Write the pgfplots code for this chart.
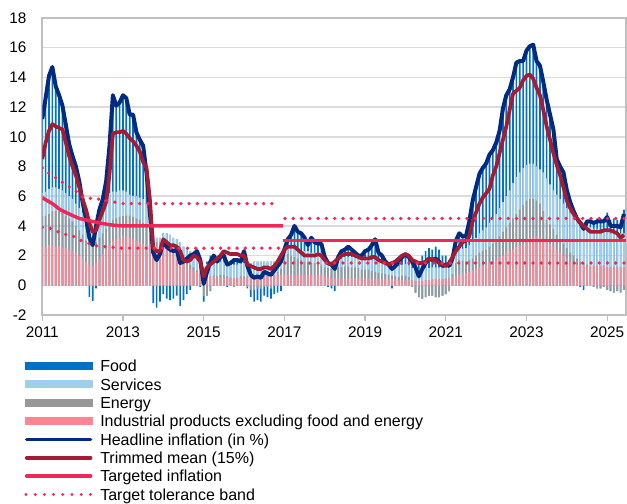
\documentclass[border=0pt]{standalone}
\usepackage{fontspec}
\setmainfont{Liberation Sans}
\usepackage{pgfplots}
\usepackage{pgfplotstable}
\pgfplotsset{compat=1.18}

\definecolor{cFood}{RGB}{0,114,198}
\definecolor{cServ}{RGB}{160,207,235}
\definecolor{cEn}{RGB}{152,152,152}
\definecolor{cInd}{RGB}{255,133,145}
\definecolor{cHead}{RGB}{0,43,127}
\definecolor{cTrim}{RGB}{164,27,52}
\definecolor{cTarget}{RGB}{240,40,90}

% t = months since Jan 2011; I = industrial products, E = energy, S = services, F = food,
% H = headline inflation, T = trimmed mean
\pgfplotstableread{
t I E S F H T
0 2.6 2.05 1.55 5.0 11.2 8.5
1 2.6 2.1 1.6 6.3 12.6 9.6
2 2.7 2.1 1.7 7.6 14.1 10.4
3 2.7 2.3 1.6 8.1 14.7 10.85
4 2.6 2.4 1.6 6.8 13.4 10.7
5 2.6 2.4 1.5 6.3 12.8 10.6
6 2.5 2.4 1.5 5.7 12.1 10.5
7 2.5 2.2 1.5 4.6 10.8 9.6
8 2.4 2.1 1.5 3.5 9.5 8.7
9 2.3 2.0 1.5 2.9 8.7 8.0
10 2.2 1.8 1.5 2.5 8.0 7.4
11 2.0 1.7 1.5 1.8 7.0 6.6
12 1.8 1.6 1.5 0.7 5.6 5.8
13 1.6 1.4 1.5 0.0 4.5 5.1
14 1.4 1.4 1.2 -0.8 3.2 4.2
15 1.3 1.4 1.05 -1.05 2.7 3.6
16 1.5 1.4 1.3 -0.2 4.0 3.7
17 1.8 1.4 1.7 0.2 5.1 4.4
18 2.1 1.4 1.9 0.4 5.8 5.0
19 2.4 1.4 2.0 1.2 7.0 5.6
20 2.7 1.4 2.1 3.2 9.4 7.5
21 3.0 1.4 1.9 6.5 12.8 10.2
22 3.1 1.4 1.8 5.8 12.1 10.3
23 3.2 1.4 1.8 5.9 12.3 10.3
24 3.3 1.35 1.75 6.4 12.8 10.4
25 3.3 1.4 1.6 6.3 12.6 10.2
26 3.2 1.5 1.4 5.4 11.5 9.9
27 3.1 1.5 1.4 5.5 11.5 9.7
28 3.0 1.5 1.5 4.3 10.3 9.4
29 2.9 1.5 1.5 3.9 9.8 9.0
30 2.8 1.4 1.6 3.6 9.4 8.3
31 2.7 1.3 1.5 2.1 7.6 7.9
32 2.7 0.7 0.8 0.7 4.9 5.8
33 2.6 0.4 0.4 -1.2 2.2 2.5
34 2.6 0.3 0.3 -1.5 1.7 2.3
35 2.6 0.3 0.3 -1.1 2.1 2.3
36 2.5 0.3 0.7 -0.6 2.9 3.1
37 2.4 0.3 0.8 -0.9 2.6 2.9
38 2.2 0.3 0.9 -1.0 2.4 2.7
39 2.1 0.3 0.8 -0.9 2.3 2.7
40 1.9 0.3 0.9 -0.7 2.4 2.6
41 1.7 0.3 0.9 -1.4 1.5 2.3
42 1.5 0.3 0.8 -1.0 1.6 1.7
43 1.3 0.3 0.8 -0.6 1.8 1.6
44 1.1 0.3 0.9 -0.3 2.0 1.7
45 1.0 0.2 0.9 0.0 2.1 2.0
46 0.9 0.1 1.0 0.3 2.3 1.9
47 0.8 0.0 1.0 -0.1 1.7 1.6
48 0.7 -0.7 0.5 -0.4 0.1 0.6
49 0.65 -0.7 0.8 0.15 0.9 1.2
50 0.6 -0.4 1.0 0.4 1.6 1.4
51 0.55 0.1 1.0 0.35 2.0 1.6
52 0.5 0.1 0.9 0.1 1.6 1.8
53 0.5 0.2 0.9 0.3 1.9 2.0
54 0.5 0.2 0.9 0.4 2.0 2.3
55 0.5 0.1 0.9 -0.1 1.4 2.2
56 0.5 0.0 0.9 0.1 1.5 2.1
57 0.5 -0.1 0.9 0.4 1.7 2.1
58 0.5 0.0 0.9 0.3 1.7 2.1
59 0.5 0.1 0.9 0.1 1.6 2.0
60 0.5 0.1 0.9 0.8 2.3 2.0
61 0.6 -0.1 0.9 -0.1 1.3 1.4
62 0.6 -0.3 0.9 -0.5 0.7 1.3
63 0.7 -0.3 0.9 -0.8 0.5 1.2
64 0.7 -0.2 0.9 -0.8 0.6 1.1
65 0.7 -0.2 0.9 -0.9 0.5 1.1
66 0.7 -0.1 0.9 -0.6 0.9 1.2
67 0.7 -0.1 0.9 -0.7 0.8 1.2
68 0.7 -0.2 0.9 -0.7 0.7 1.1
69 0.7 0.0 0.9 -0.6 1.0 1.3
70 0.7 0.2 0.9 -0.5 1.3 1.6
71 0.7 0.4 0.9 -0.4 1.6 2.0
72 0.7 1.3 0.4 0.0 2.4 2.4
73 0.7 1.4 0.4 0.6 3.1 2.6
74 0.7 1.3 0.5 0.9 3.4 2.6
75 0.7 1.2 0.6 1.5 4.0 2.6
76 0.7 1.1 0.6 1.2 3.6 2.4
77 0.7 1.0 0.6 1.2 3.5 2.2
78 0.7 0.9 0.7 0.9 3.2 2.0
79 0.7 0.9 0.7 0.4 2.7 2.0
80 0.7 0.8 0.7 1.0 3.2 2.0
81 0.7 0.8 0.7 0.7 2.9 2.0
82 0.7 0.7 0.8 0.6 2.8 2.1
83 0.7 0.7 0.8 0.6 2.8 2.0
84 0.6 0.6 0.6 0.1 1.9 1.7
85 0.55 0.6 0.45 -0.1 1.5 1.5
86 0.5 0.6 0.5 -0.2 1.4 1.4
87 0.5 0.6 0.4 -0.4 1.1 1.6
88 0.5 0.7 0.5 0.2 1.9 1.8
89 0.45 0.75 0.6 0.5 2.3 2.0
90 0.45 0.8 0.65 0.5 2.4 2.1
91 0.45 0.8 0.65 0.7 2.6 2.1
92 0.45 0.75 0.7 0.5 2.4 2.1
93 0.45 0.75 0.7 0.3 2.2 2.0
94 0.45 0.7 0.65 0.2 2.0 1.9
95 0.45 0.6 0.75 0.2 2.0 1.8
96 0.45 0.6 0.65 0.6 2.3 1.8
97 0.45 0.6 0.65 0.7 2.4 1.8
98 0.4 0.55 0.75 1.0 2.7 1.9
99 0.4 0.5 0.8 1.4 3.1 1.9
100 0.4 0.45 0.75 0.6 2.2 1.7
101 0.4 0.4 0.8 0.4 2.0 1.6
102 0.4 0.35 0.75 0.1 1.6 1.5
103 0.4 0.3 0.7 0.0 1.4 1.4
104 0.4 0.25 0.65 -0.2 1.1 1.5
105 0.4 0.2 0.7 0.0 1.3 1.6
106 0.35 0.2 0.75 0.3 1.6 1.8
107 0.35 0.3 0.75 0.5 1.9 2.0
108 0.35 0.3 0.8 0.65 2.1 2.1
109 0.35 0.2 0.8 0.55 1.9 2.0
110 0.35 -0.1 0.8 0.55 1.6 1.7
111 0.3 -0.5 0.8 0.6 1.2 1.6
112 0.3 -0.8 0.8 0.3 0.6 1.5
113 0.3 -0.9 0.8 0.9 1.1 1.5
114 0.35 -0.8 0.8 1.15 1.5 1.6
115 0.35 -0.7 0.8 1.35 1.8 1.8
116 0.4 -0.7 0.8 1.2 1.7 1.7
117 0.4 -0.8 0.8 1.4 1.8 1.7
118 0.4 -0.8 0.8 1.2 1.6 1.5
119 0.4 -0.7 0.8 0.8 1.3 1.4
120 0.45 -0.6 0.8 0.75 1.4 1.3
121 0.5 -0.4 0.8 0.4 1.3 1.5
122 0.55 0.2 0.8 0.25 1.8 1.9
123 0.6 0.9 0.8 0.7 3.0 2.3
124 0.7 1.0 0.8 1.0 3.5 2.6
125 0.75 0.9 0.8 0.85 3.3 2.9
126 0.8 0.8 0.9 0.8 3.3 3.0
127 0.9 0.8 1.0 1.6 4.3 3.3
128 1.0 0.8 1.1 2.8 5.7 4.3
129 1.1 0.9 1.2 3.4 6.6 4.9
130 1.2 1.0 1.3 4.0 7.5 5.5
131 1.3 1.0 1.4 4.2 7.9 5.9
132 1.4 1.0 1.5 4.3 8.2 6.2
133 1.5 1.1 1.6 4.6 8.8 6.5
134 1.6 1.2 1.7 4.6 9.1 7.4
135 1.7 1.3 1.8 4.8 9.6 8.0
136 1.9 1.4 1.9 5.2 10.4 8.9
137 2.0 1.6 2.0 6.3 11.9 9.8
138 2.2 1.7 2.1 6.8 12.8 10.7
139 2.3 1.9 2.2 6.8 13.2 11.8
140 2.4 2.1 2.4 7.1 14.0 12.9
141 2.6 2.2 2.5 7.7 15.0 13.1
142 2.7 2.4 2.5 7.5 15.1 13.3
143 2.8 2.6 2.5 7.2 15.1 13.8
144 3.0 2.7 2.4 7.7 15.8 14.1
145 3.2 2.6 2.4 7.9 16.1 14.2
146 3.3 2.5 2.4 8.0 16.2 13.9
147 3.3 2.4 2.3 7.1 15.1 13.3
148 3.2 2.3 2.3 7.0 14.8 12.8
149 3.1 1.9 2.6 6.1 13.7 11.8
150 3.0 1.4 2.8 5.3 12.5 10.7
151 2.8 1.3 2.7 4.7 11.5 9.8
152 2.6 1.2 2.6 4.1 10.5 8.9
153 2.4 1.0 2.7 2.4 8.5 8.1
154 2.2 0.9 2.7 2.2 8.0 7.4
155 2.0 0.8 2.7 2.1 7.6 6.6
156 1.8 0.7 2.7 1.2 6.4 5.7
157 1.6 0.6 2.7 0.7 5.6 5.2
158 1.5 0.5 2.6 0.4 5.0 4.8
159 1.4 0.4 2.6 0.1 4.5 4.5
160 1.4 0.2 2.7 -0.1 4.2 4.2
161 1.4 0.1 2.6 -0.3 3.8 4.0
162 1.3 0.1 2.6 0.3 4.3 3.8
163 1.3 0.0 2.6 0.4 4.3 3.6
164 1.3 -0.1 2.5 0.5 4.2 3.6
165 1.3 -0.2 2.5 0.7 4.3 3.6
166 1.3 -0.2 2.4 0.8 4.3 3.6
167 1.3 -0.1 2.4 0.7 4.3 3.7
168 1.2 -0.3 2.4 1.3 4.6 3.7
169 1.2 -0.4 2.3 0.9 4.0 3.7
170 1.2 -0.5 2.3 1.0 4.0 3.6
171 1.2 -0.4 2.3 0.9 4.0 3.5
172 1.2 -0.5 2.3 0.9 3.9 3.2
173 1.2 -0.3 2.3 1.6 4.8 3.4
}\datatab

\pgfplotsset{
  mybar/.style={ybar, bar width=0.5, bar shift=0pt, draw=none, fill=#1},
  band/.style={cTarget, line width=2.8pt, line cap=round, dash pattern=on 0pt off 6.2pt},
}

\begin{document}
\begin{tikzpicture}
\useasboundingbox (0pt,0pt) rectangle (470.25pt,377.25pt);
\begin{axis}[
  at={(31.7pt,141pt)}, anchor=south west,
  scale only axis, width=437.8pt, height=222.75pt,
  xmin=0, xmax=173.6, ymin=-2, ymax=18,
  ytick={-2,0,...,18},
  xtick={0,24,...,168},
  xticklabels={2011,2013,2015,2017,2019,2021,2023,2025},
  axis line style={draw=gray!50, line width=1.2pt},
  ymajorgrids, grid style={draw=gray!28, line width=1.1pt},
  tick align=outside, xtick pos=lower,
  major tick length=4.5pt,
  ytick style={draw=none},
  xtick style={draw=gray!50, line width=1pt},
  /pgf/number format/assume math mode=true,
  ticklabel style={font=\fontsize{11.5pt}{13pt}\selectfont},
  yticklabel style={xshift=-3.8pt},
  xticklabel style={yshift=-0.5pt},
]
% stacked contributions (drawn as overlaid cumulative bars, positives up, negatives down)
\addplot[mybar=cFood] table[x=t, y expr={max(\thisrow{I},0)+max(\thisrow{E},0)+max(\thisrow{S},0)+max(\thisrow{F},0)}] {\datatab};
\addplot[mybar=cFood] table[x=t, y expr={min(\thisrow{I},0)+min(\thisrow{E},0)+min(\thisrow{S},0)+min(\thisrow{F},0)}] {\datatab};
\addplot[mybar=cServ] table[x=t, y expr={max(\thisrow{I},0)+max(\thisrow{E},0)+max(\thisrow{S},0)}] {\datatab};
\addplot[mybar=cServ] table[x=t, y expr={min(\thisrow{I},0)+min(\thisrow{E},0)+min(\thisrow{S},0)}] {\datatab};
\addplot[mybar=cEn] table[x=t, y expr={max(\thisrow{I},0)+max(\thisrow{E},0)}] {\datatab};
\addplot[mybar=cEn] table[x=t, y expr={min(\thisrow{I},0)+min(\thisrow{E},0)}] {\datatab};
\addplot[mybar=cInd] table[x=t, y expr={max(\thisrow{I},0)}] {\datatab};
% lines
\addplot[cHead, line width=3pt, line join=round] table[x=t, y=H] {\datatab};
\addplot[cTrim, line width=2.8pt, line join=round] table[x=t, y=T] {\datatab};
\addplot[cTarget, line width=2.6pt, line join=round] coordinates {
(0,5.9) (3,5.5) (5.3,5.1) (8,4.8) (11,4.5) (13,4.4) (16,4.25) (19,4.12) (21,4.05) (24,4.0) (71.6,4.0)};
\addplot[cTarget, line width=2.6pt] coordinates {(71.6,3.0) (173.6,3.0)};
\addplot[band] coordinates {
(0,7.9) (2.3,7.5) (4.3,7.2) (6.2,6.9) (8.2,6.6) (10.2,6.3) (12.2,5.9) (14.7,5.85) (16.9,5.8) (19.2,5.7) (21.6,5.6) (24,5.5) (70.5,5.5)};
\addplot[band] coordinates {
(0,3.9) (2.3,3.85) (4.8,3.6) (7.3,3.4) (9.2,3.3) (11.7,3.0) (14.2,2.8) (16.2,2.65) (18.6,2.6) (21.1,2.55) (23.3,2.5) (70.5,2.5)};
\addplot[band] coordinates {(72.2,4.5) (173.4,4.5)};
\addplot[band] coordinates {(72.2,1.5) (173.4,1.5)};
\end{axis}

% legend
\begin{scope}[font=\fontsize{12pt}{14pt}\selectfont]
\fill[cFood] (18.75pt,99.75pt) rectangle (69.4pt,105.75pt);
\node[anchor=base west, inner sep=0pt] at (75pt,98.45pt) {Food};
\fill[cServ] (18.75pt,86pt) rectangle (69.4pt,92pt);
\node[anchor=base west, inner sep=0pt] at (75pt,84.7pt) {Services};
\fill[cEn] (18.75pt,72.2pt) rectangle (69.4pt,78.2pt);
\node[anchor=base west, inner sep=0pt] at (75pt,70.9pt) {Energy};
\fill[cInd] (18.75pt,58.5pt) rectangle (69.4pt,64.5pt);
\node[anchor=base west, inner sep=0pt] at (75pt,57.2pt) {Industrial products excluding food and energy};
\draw[cHead, line width=2.6pt, line cap=round] (20pt,47.7pt) -- (68pt,47.7pt);
\node[anchor=base west, inner sep=0pt] at (75pt,43.4pt) {Headline inflation (in \%)};
\draw[cTrim, line width=2.6pt, line cap=round] (20pt,33.9pt) -- (68pt,33.9pt);
\node[anchor=base west, inner sep=0pt] at (75pt,29.6pt) {Trimmed mean (15\%)};
\draw[cTarget, line width=2.6pt, line cap=round] (20pt,20.2pt) -- (68pt,20.2pt);
\node[anchor=base west, inner sep=0pt] at (75pt,15.9pt) {Targeted inflation};
\draw[cTarget, line width=2.4pt, line cap=round, dash pattern=on 0pt off 6.9pt] (19.5pt,6.4pt) -- (68pt,6.4pt);
\node[anchor=base west, inner sep=0pt] at (75pt,2.1pt) {Target tolerance band};
\end{scope}
\end{tikzpicture}
\end{document}
